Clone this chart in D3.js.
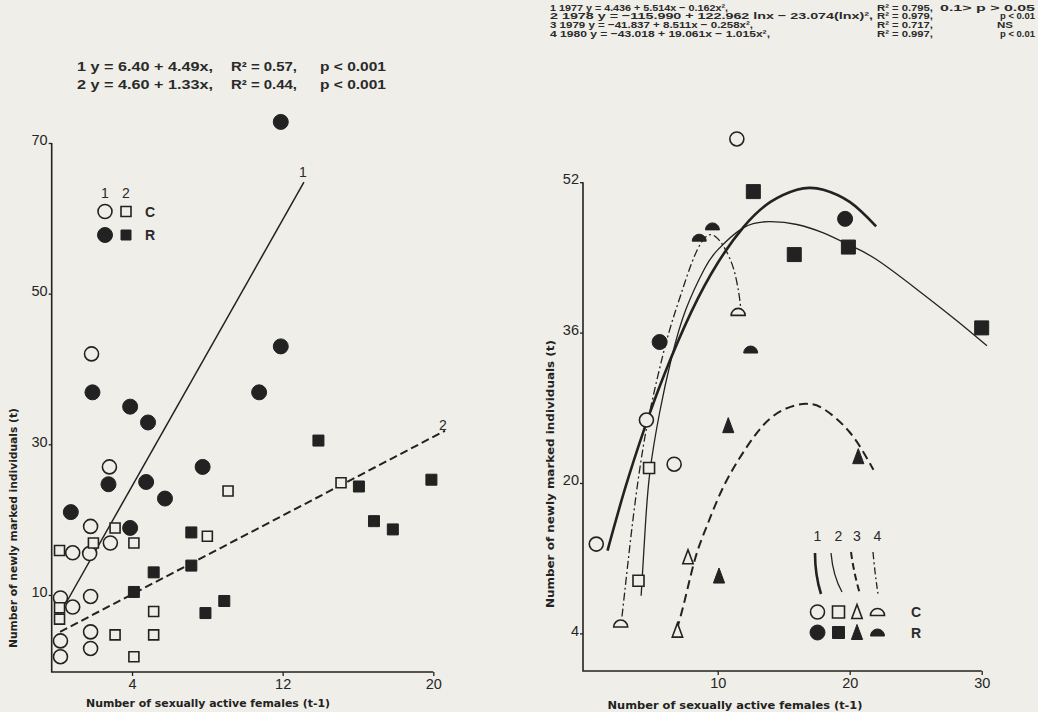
<!DOCTYPE html>
<html>
<head>
<meta charset="utf-8">
<script src="https://cdn.jsdelivr.net/npm/d3@7"></script>
<style>
  body { margin: 0; background: #efeee8; }
  svg { display: block; }
</style>
</head>
<body>
<div id="chart-container"></div>
<script>
// ---------- left panel data (number of females vs newly marked) ----------
const leftOpenCircles = [[1.85, 42.0], [2.8, 27.0], [1.8, 19.1], [2.85, 16.9], [0.85, 15.6], [1.75, 15.5],
  [0.2, 9.6], [1.8, 9.8], [0.85, 8.4], [0.2, 3.9], [1.8, 5.1], [1.8, 2.9], [0.2, 1.8]];
const leftFilledCircles = [[1.9, 36.9], [3.9, 35.0], [4.85, 32.9], [2.75, 24.7], [4.75, 25.0], [5.75, 22.8],
  [7.75, 27.0], [0.75, 21.0], [3.9, 18.9], [10.75, 36.9], [11.9, 43.0], [11.9, 72.8]];
const leftOpenSquares = [[3.1, 18.9], [8.0, 17.8], [1.95, 16.9], [4.1, 16.9], [0.15, 15.9], [0.15, 8.3],
  [0.15, 6.8], [5.15, 7.8], [3.1, 4.7], [5.15, 4.7], [4.1, 1.8], [9.1, 23.8], [15.1, 24.9]];
const leftFilledSquares = [[7.15, 18.3], [5.15, 13.0], [7.15, 13.9], [4.1, 10.4], [7.9, 7.6], [8.9, 9.2],
  [13.9, 30.5], [16.05, 24.4], [19.9, 25.3], [16.85, 19.8], [17.85, 18.7]];
const leftLine1 = [[0.53, 9.1], [13.13, 64.8]];
const leftLine2 = [[0.18, 5.1], [20.62, 31.8]];
const leftXTicks = [4, 12, 20];
const leftYTicks = [10, 30, 50, 70];
const leftEquations = [
  ["1  y = 6.40 + 4.49x,", "R\u00b2 = 0.57,", "p < 0.001"],
  ["2  y = 4.60 + 1.33x,", "R\u00b2 = 0.44,", "p < 0.001"]
];

// ---------- right panel data (per year) ----------
const openCircles1977 = [[11.45, 56.6], [4.6, 26.7], [6.7, 22.0], [0.8, 13.5]];
const filledCircles1977 = [[19.65, 48.1], [5.6, 35.0]];
const openSquares1978 = [[4.8, 21.6], [4.0, 9.6]];
const filledSquares1978 = [[12.7, 51.0], [15.8, 44.3], [19.9, 45.1], [30.0, 36.5]];
const openTriangles1979 = [[7.75, 12.1], [6.95, 4.3]];
const filledTriangles1979 = [[10.8, 26.1], [10.1, 10.1], [20.65, 22.8]];
const openHalves1980 = [[11.55, 38.2], [2.65, 5.05]];
const filledHalves1980 = [[9.6, 47.3], [8.6, 46.1], [12.5, 34.2]];

const curve1977 = [[1.65, 12.8], [3, 19.5], [4.5, 26.0], [6, 31.7], [8, 38.2], [10, 43.4], [12, 47.3],
  [14, 49.9], [16, 51.2], [17, 51.4], [18, 51.2], [20, 49.9], [22, 47.3]];
const curve1978 = [[4.2, 8.0], [4.5, 15.0], [4.85, 21.0], [5.6, 27.5], [6.5, 33.3], [7.6, 38.5], [9, 42.8],
  [10, 44.8], [12, 47.2], [14, 47.8], [16, 47.5], [18, 46.6], [20, 45.3], [22, 43.8], [25, 40.7],
  [28, 37.4], [30.4, 34.6]];
const curve1979 = [[6.9, 4.4], [7.5, 7.5], [8.3, 12.0], [9.2, 15.5], [10.4, 19.5], [12, 23.4], [14, 26.9],
  [16, 28.3], [17, 28.4], [18, 27.9], [20, 25.4], [21.8, 21.4]];
const curve1980 = [[2.75, 5.8], [3.2, 11.5], [3.75, 18.0], [4.5, 25.0], [5.4, 31.0], [6.3, 36.0],
  [7.2, 40.0], [8.2, 44.0], [9.2, 46.3], [10.0, 46.0], [10.6, 44.8], [11.2, 42.8], [11.6, 40.2],
  [11.75, 38.5]];
const rightXTicks = [10, 20, 30];
const rightYTicks = [4, 20, 36, 52];
const rightEquations = [
  ["1 1977  y =  4.436 + 5.514x \u2212 0.162x\u00b2,", "R\u00b2 = 0.795,", "0.1> p > 0.05"],
  ["2 1978  y = \u2212115.990 + 122.962 lnx \u2212 23.074(lnx)\u00b2,", "R\u00b2 = 0.979,", "p < 0.01"],
  ["3 1979  y = \u221241.837 + 8.511x \u2212 0.258x\u00b2,", "R\u00b2 = 0.717,", "NS"],
  ["4 1980  y = \u221243.018 + 19.061x \u2212 1.015x\u00b2,", "R\u00b2 = 0.997,", "p < 0.01"]
];

const ink = "#222";
const paper = "#efeee8";
const numFont = "'Liberation Sans', Arial, sans-serif";
const titleFont = "'DejaVu Sans Condensed', 'DejaVu Sans', sans-serif";

const svg = d3.select("#chart-container")
  .append("svg")
  .attr("width", 1038)
  .attr("height", 712);

svg.append("rect").attr("width", 1038).attr("height", 712).attr("fill", paper);

// marker drawing helper
function drawMarkers(g, data, x, y, kind, filled, size) {
  const sel = g.append("g").selectAll("path").data(data).enter().append("path")
    .attr("transform", (d) => `translate(${x(d[0])},${y(d[1])})`)
    .attr("fill", filled ? ink : paper)
    .attr("stroke", ink)
    .attr("stroke-width", filled ? 1 : 1.6);
  const r = size / 2;
  if (kind === "circle") {
    sel.attr("d", `M${-r},0A${r},${r} 0 1,1 ${r},0A${r},${r} 0 1,1 ${-r},0Z`);
  } else if (kind === "square") {
    sel.attr("d", `M${-r},${-r}H${r}V${r}H${-r}Z`);
  } else if (kind === "triangle") {
    sel.attr("d", `M0,${-r * 1.15}L${r * 0.8},${r}L${-r * 0.8},${r}Z`);
  } else if (kind === "half") {
    sel.attr("d", `M${-r},${r / 2}A${r},${r} 0 0,1 ${r},${r / 2}Z`);
  }
}
const ident = (v) => v;

function styleAxis(g, vertical) {
  g.select(".domain").remove();
  g.selectAll(".tick line").attr("stroke", ink).attr("stroke-width", 1.3);
  g.selectAll(".tick text")
    .attr("font-size", 14.5)
    .attr("fill", "#262626")
    .style("font-family", numFont)
    .attr("dy", vertical ? "0.12em" : "0.71em");
}

// ================= LEFT PANEL =================
const xL = d3.scaleLinear().domain([0, 20]).range([56.7, 433.3]);
const yL = d3.scaleLinear().domain([0, 70]).range([670.3, 143]);
const left = svg.append("g");

left.append("path").attr("d", `M51.7,${yL(70)}V672H${xL(20)}`)
  .attr("fill", "none").attr("stroke", ink).attr("stroke-width", 1.6);

left.append("g").attr("class", "y-axis").attr("transform", "translate(51.7,0)")
  .call(d3.axisLeft(yL).tickValues(leftYTicks).tickSize(3).tickPadding(1))
  .call((g) => styleAxis(g, true));
left.append("g").attr("class", "x-axis").attr("transform", "translate(0,672)")
  .call(d3.axisBottom(xL).tickValues(leftXTicks).tickSize(4).tickPadding(3))
  .call((g) => styleAxis(g, false));

// regression lines
const lineL = d3.line().x((d) => xL(d[0])).y((d) => yL(d[1]));
left.append("path").attr("d", lineL(leftLine1)).attr("fill", "none")
  .attr("stroke", ink).attr("stroke-width", 1.5);
left.append("path").attr("d", lineL(leftLine2)).attr("fill", "none")
  .attr("stroke", ink).attr("stroke-width", 2).attr("stroke-dasharray", "8,4");

drawMarkers(left, leftOpenCircles, xL, yL, "circle", false, 14);
drawMarkers(left, leftFilledCircles, xL, yL, "circle", true, 15);
drawMarkers(left, leftOpenSquares, xL, yL, "square", false, 10);
drawMarkers(left, leftFilledSquares, xL, yL, "square", true, 11);

// line labels
left.append("text").attr("class", "lab").attr("x", 299).attr("y", 177).text("1");
left.append("text").attr("class", "lab").attr("x", 439).attr("y", 430).text("2");

// legend
const legL = left.append("g");
legL.append("text").attr("class", "lab").attr("x", 105).attr("y", 198).attr("text-anchor", "middle").text("1");
legL.append("text").attr("class", "lab").attr("x", 126).attr("y", 198).attr("text-anchor", "middle").text("2");
drawMarkers(legL, [[105, 211.5]], ident, ident, "circle", false, 14);
drawMarkers(legL, [[126, 211.5]], ident, ident, "square", false, 10);
drawMarkers(legL, [[105, 235]], ident, ident, "circle", true, 15);
drawMarkers(legL, [[126, 235]], ident, ident, "square", true, 10);
legL.append("text").attr("class", "lab").attr("x", 145).attr("y", 217).attr("font-weight", "bold").text("C");
legL.append("text").attr("class", "lab").attr("x", 145).attr("y", 240).attr("font-weight", "bold").text("R");

// equations
const eqXL = [77, 231, 320];
const eqWL = [136, 66, 66];
leftEquations.forEach((row, i) => {
  row.forEach((t, j) => {
    left.append("text").attr("class", "eq")
      .attr("x", eqXL[j]).attr("y", 71 + i * 17.5)
      .attr("textLength", eqWL[j]).attr("lengthAdjust", "spacingAndGlyphs")
      .attr("font-size", 13.5).attr("font-weight", "bold").text(t);
  });
});

// axis titles
left.append("text")
  .attr("transform", "translate(17,528) rotate(-90)")
  .attr("class", "title").attr("text-anchor", "middle")
  .attr("textLength", 240).attr("lengthAdjust", "spacingAndGlyphs")
  .text("Number of newly marked individuals (t)");
left.append("text")
  .attr("x", 208).attr("y", 707)
  .attr("class", "title").attr("text-anchor", "middle")
  .attr("textLength", 244).attr("lengthAdjust", "spacingAndGlyphs")
  .text("Number of sexually active females (t-1)");

// ================= RIGHT PANEL =================
const xR = d3.scaleLinear().domain([0, 30]).range([585.7, 981.7]);
const yR = d3.scaleLinear().domain([0, 52]).range([671, 182.2]);
const right = svg.append("g");

right.append("path").attr("d", `M583,${yR(52)}V671H${xR(30)}`)
  .attr("fill", "none").attr("stroke", ink).attr("stroke-width", 1.6);
right.append("g").attr("class", "y-axis").attr("transform", "translate(583,0)")
  .call(d3.axisLeft(yR).tickValues(rightYTicks).tickSize(3).tickPadding(1))
  .call((g) => styleAxis(g, true));
right.append("g").attr("class", "x-axis").attr("transform", "translate(0,671)")
  .call(d3.axisBottom(xR).tickValues(rightXTicks).tickSize(4).tickPadding(3))
  .call((g) => styleAxis(g, false));

const curveR = d3.line().x((d) => xR(d[0])).y((d) => yR(d[1])).curve(d3.curveNatural);
right.append("path").attr("d", curveR(curve1977)).attr("fill", "none")
  .attr("stroke", ink).attr("stroke-width", 2.6);
right.append("path").attr("d", curveR(curve1978)).attr("fill", "none")
  .attr("stroke", ink).attr("stroke-width", 1.3);
right.append("path").attr("d", curveR(curve1979)).attr("fill", "none")
  .attr("stroke", ink).attr("stroke-width", 2).attr("stroke-dasharray", "9,5");
right.append("path").attr("d", curveR(curve1980)).attr("fill", "none")
  .attr("stroke", ink).attr("stroke-width", 1.3).attr("stroke-dasharray", "8,3,2,3");

drawMarkers(right, openCircles1977, xR, yR, "circle", false, 14);
drawMarkers(right, filledCircles1977, xR, yR, "circle", true, 15);
drawMarkers(right, openSquares1978, xR, yR, "square", false, 11);
drawMarkers(right, filledSquares1978, xR, yR, "square", true, 14);
drawMarkers(right, openTriangles1979, xR, yR, "triangle", false, 13);
drawMarkers(right, filledTriangles1979, xR, yR, "triangle", true, 14);
drawMarkers(right, openHalves1980, xR, yR, "half", false, 14);
drawMarkers(right, filledHalves1980, xR, yR, "half", true, 14);

// legend
const legR = right.append("g");
const legX = [817.5, 838.5, 857, 877.5];
["1", "2", "3", "4"].forEach((t, i) => {
  legR.append("text").attr("class", "lab").attr("x", legX[i]).attr("y", 541).attr("text-anchor", "middle").text(t);
});
legR.append("path").attr("d", "M815,553Q815,575 821,594").attr("fill", "none")
  .attr("stroke", ink).attr("stroke-width", 2.6);
legR.append("path").attr("d", "M831,553Q833,576 842,592").attr("fill", "none")
  .attr("stroke", ink).attr("stroke-width", 1.3);
legR.append("path").attr("d", "M851,552Q854,574 860,594").attr("fill", "none")
  .attr("stroke", ink).attr("stroke-width", 2).attr("stroke-dasharray", "7,4");
legR.append("path").attr("d", "M873,552Q875,574 878,594").attr("fill", "none")
  .attr("stroke", ink).attr("stroke-width", 1.3).attr("stroke-dasharray", "7,3,2,3");
const kinds = ["circle", "square", "triangle", "half"];
const openSizes = [14, 12, 13, 14];
const filledSizes = [15, 12, 14, 14];
kinds.forEach((k, i) => {
  drawMarkers(legR, [[legX[i], 612]], ident, ident, k, false, openSizes[i]);
  drawMarkers(legR, [[legX[i], 632.5]], ident, ident, k, true, filledSizes[i]);
});
legR.append("text").attr("class", "lab").attr("x", 911).attr("y", 617).attr("font-weight", "bold").text("C");
legR.append("text").attr("class", "lab").attr("x", 911).attr("y", 638).attr("font-weight", "bold").text("R");

// equations (top right)
const eqWR0 = [178, 323, 203, 220];
const eqXR2 = [940, 1000, 997, 1000];
const eqWR2 = [95, 35, 16, 35];
rightEquations.forEach((row, i) => {
  const yy = 10.5 + i * 8.9;
  right.append("text").attr("class", "eq").attr("x", 550).attr("y", yy)
    .attr("textLength", eqWR0[i]).attr("lengthAdjust", "spacingAndGlyphs")
    .text(row[0]);
  right.append("text").attr("class", "eq").attr("x", 877).attr("y", yy)
    .attr("textLength", 56).attr("lengthAdjust", "spacingAndGlyphs")
    .text(row[1]);
  right.append("text").attr("class", "eq").attr("x", eqXR2[i]).attr("y", yy)
    .attr("textLength", eqWR2[i]).attr("lengthAdjust", "spacingAndGlyphs")
    .text(row[2]);
});
right.selectAll(".eq").attr("font-size", 9.8).attr("font-weight", "bold");

right.append("text")
  .attr("transform", "translate(554,474) rotate(-90)")
  .attr("class", "title").attr("text-anchor", "middle")
  .attr("textLength", 268).attr("lengthAdjust", "spacingAndGlyphs")
  .text("Number of newly marked individuals (t)");
right.append("text")
  .attr("x", 735).attr("y", 709)
  .attr("class", "title").attr("text-anchor", "middle")
  .attr("textLength", 255).attr("lengthAdjust", "spacingAndGlyphs")
  .text("Number of sexually active females (t-1)");

// common text styling
svg.selectAll(".eq, .lab").attr("fill", "#2a2a2a").style("font-family", numFont);
svg.selectAll(".lab").attr("font-size", 14);
svg.selectAll(".title").style("font-family", titleFont)
  .attr("font-size", 10.5).attr("font-weight", "bold").attr("fill", "#222");
</script>
</body>
</html>
